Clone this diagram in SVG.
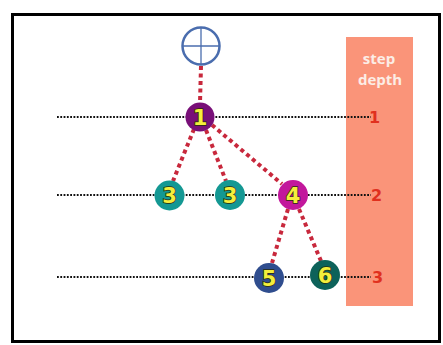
<svg xmlns="http://www.w3.org/2000/svg" width="443" height="345" viewBox="0 0 443 345">
  <style>
    .level { stroke: #111; stroke-width: 1.8; stroke-dasharray: 1.8 1.5; fill: none; }
    .edge { stroke: #C8283C; stroke-width: 4; stroke-dasharray: 4 3.5; fill: none; }
    .num { font-family: "DejaVu Sans", "Liberation Sans", sans-serif; font-weight: bold; font-size: 21px; fill: #F4EE3C; stroke: #2a2a08; stroke-width: 1.4; paint-order: stroke; text-anchor: middle; }
    .depth { font-family: "DejaVu Sans", "Liberation Sans", sans-serif; font-weight: bold; font-size: 16px; fill: #E0301E; }
    .head { font-family: "Open Sans", "Liberation Sans", sans-serif; font-weight: bold; font-size: 15px; fill: #FCEDE6; text-anchor: middle; }
  </style>

  <rect x="0" y="0" width="443" height="345" fill="#fff"/>
  <!-- frame -->
  <rect x="12.5" y="14.5" width="427" height="327" fill="none" stroke="#000" stroke-width="3"/>

  <!-- step depth column -->
  <rect x="346" y="37" width="67" height="269" fill="#FA9479"/>
  <text class="head" x="379" y="64">step</text>
  <text class="head" x="380" y="85">depth</text>

  <!-- depth guide lines -->
  <g id="levels">
    <line class="level" x1="57" y1="117" x2="371" y2="117"/>
    <line class="level" x1="57" y1="195" x2="371" y2="195"/>
    <line class="level" x1="57" y1="277" x2="371" y2="277"/>
    <text class="depth" x="369" y="123">1</text>
    <text class="depth" x="371" y="201">2</text>
    <text class="depth" x="372" y="283">3</text>
  </g>

  <!-- connectors -->
  <g id="connectors">
    <line class="edge" x1="201" y1="66" x2="200" y2="103"/>
    <line class="edge" x1="194" y1="129" x2="173" y2="181"/>
    <line class="edge" x1="206" y1="130" x2="226" y2="181"/>
    <line class="edge" x1="212" y1="125" x2="282" y2="184"/>
    <line class="edge" x1="288" y1="209" x2="272" y2="263"/>
    <line class="edge" x1="299" y1="209" x2="321" y2="261"/>
  </g>

  <!-- root marker -->
  <g id="root">
    <circle cx="201" cy="46" r="18.5" fill="#fff" stroke="#4A6DAE" stroke-width="2.5"/>
    <line x1="182.5" y1="46" x2="219.5" y2="46" stroke="#4A6DAE" stroke-width="1.3"/>
    <line x1="201" y1="27.5" x2="201" y2="64.5" stroke="#4A6DAE" stroke-width="1.3"/>
  </g>

  <g id="n1">
    <circle cx="200" cy="117" r="14.5" fill="#780F78"/>
    <text class="num" x="200" y="124.5">1</text>
  </g>
  <g id="n3a">
    <circle cx="169.5" cy="195.5" r="15" fill="#149893"/>
    <text class="num" x="169.5" y="203">3</text>
  </g>
  <g id="n3b">
    <circle cx="230" cy="195" r="15" fill="#149893"/>
    <text class="num" x="230" y="202.5">3</text>
  </g>
  <g id="n4">
    <circle cx="293" cy="195" r="15" fill="#C2179C"/>
    <text class="num" x="293" y="202.5">4</text>
  </g>
  <g id="n5">
    <circle cx="269" cy="278" r="15" fill="#2F4D8E"/>
    <text class="num" x="269" y="285.5">5</text>
  </g>
  <g id="n6">
    <circle cx="325" cy="275" r="15" fill="#0D625A"/>
    <text class="num" x="325" y="282.5">6</text>
  </g>
</svg>
